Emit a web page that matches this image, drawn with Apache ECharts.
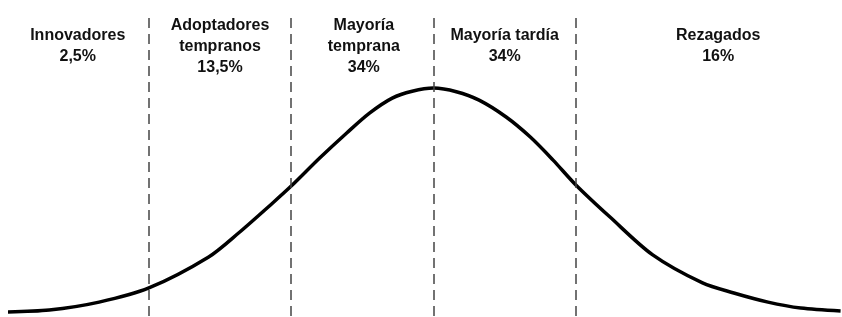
<!DOCTYPE html>
<html>
<head>
<meta charset="utf-8">
<script src="https://cdn.jsdelivr.net/npm/echarts@6/dist/echarts.min.js"></script>
<style>
  html, body { margin: 0; padding: 0; background: #fff; }
  #chart { width: 842px; height: 317px; }
</style>
</head>
<body>
<div id="chart"></div>
<script>
// posicion en desviaciones estandar (0 = media)
var curveX = [-2.99, -2.70, -2.35, -2.00, -1.58, -1.37, -1.13, -1.00, -0.80, -0.61, -0.45, -0.29, -0.15,
  0, 0.16, 0.32, 0.51, 0.68, 0.84, 1.00, 1.24, 1.54, 1.89, 2.11, 2.35, 2.58, 2.86];
// altura relativa de la curva (pico = 100)
var curveY = [1.8, 2.6, 6.1, 12.3, 25.9, 36.4, 49.6, 57.0, 69.3, 80.3, 89.0, 95.6, 98.6,
  100, 98.4, 94.7, 87.3, 78.5, 68.4, 57.5, 43.4, 26.8, 14.5, 10.1, 6.1, 3.5, 2.2];

var dividers = [-2, -1, 0, 1];

var groupNames = ['Innovadores', 'Adoptadores\ntempranos', 'Mayoría\ntemprana', 'Mayoría tardía', 'Rezagados'];
var groupShares = ['2,5%', '13,5%', '34%', '34%', '16%'];
var groupCenters = [-2.50, -1.50, -0.49, 0.50, 2.00];

function initChart(dom) {
  var myChart = echarts.init(document.getElementById(dom));

  var points = curveX.map(function (x, i) { return [x, curveY[i]]; });

  var option = {
    animation: false,
    grid: { left: 8, right: 0, top: 14, bottom: 1 },
    xAxis: {
      type: 'value',
      min: -2.99,
      max: 2.87,
      show: false
    },
    yAxis: {
      type: 'value',
      min: 0,
      max: 132.5,
      show: false
    },
    series: [
      {
        type: 'line',
        data: points,
        smooth: 0.3,
        symbol: 'none',
        lineStyle: { color: '#000', width: 3.5 },
        markLine: {
          silent: true,
          symbol: 'none',
          label: { show: false },
          lineStyle: { color: '#444', width: 1.5, type: [10, 6] },
          data: dividers.map(function (d) { return { xAxis: d }; })
        }
      },
      {
        // etiquetas de los grupos, colocadas con la escala del eje x
        type: 'scatter',
        symbolSize: 1,
        itemStyle: { opacity: 0 },
        silent: true,
        data: groupCenters.map(function (c) { return [c, 118.2]; }),
        label: {
          show: true,
          position: 'inside',
          align: 'center',
          verticalAlign: 'middle',
          lineHeight: 21,
          fontFamily: 'Liberation Sans, Arial, sans-serif',
          fontWeight: 'bold',
          fontSize: 16,
          color: '#111',
          opacity: 1,
          textBorderWidth: 0,
          formatter: function (p) {
            return groupNames[p.dataIndex] + '\n' + groupShares[p.dataIndex];
          }
        }
      }
    ]
  };
  myChart.setOption(option);
  return myChart;
}

initChart('chart');
</script>
</body>
</html>
